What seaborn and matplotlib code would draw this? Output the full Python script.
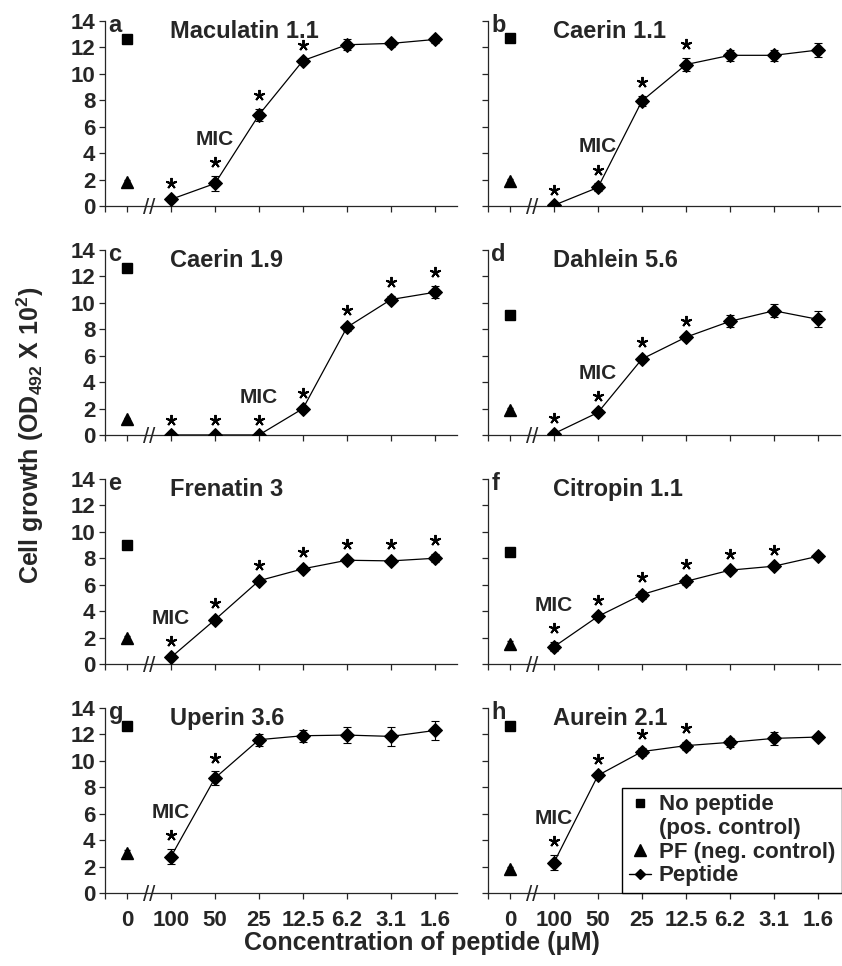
import numpy as np
import pandas as pd
import matplotlib
matplotlib.use("Agg")
import matplotlib.pyplot as plt
from matplotlib.lines import Line2D
import seaborn as sns

# ---- data ----
conc_labels = ["0", "100", "50", "25", "12.5", "6.2", "3.1", "1.6"]
letters = ["a", "b", "c", "d", "e", "f", "g", "h"]
peptides = ["Maculatin 1.1", "Caerin 1.1", "Caerin 1.9", "Dahlein 5.6",
            "Frenatin 3", "Citropin 1.1", "Uperin 3.6", "Aurein 2.1"]

pos_control = [12.6, 12.7, 12.6, 9.1, 9.0, 8.5, 12.6, 12.6]
pos_control_err = [0.2, 0.2, 0.2, 0.15, 0.15, 0.15, 0.25, 0.2]
neg_control = [1.8, 1.9, 1.2, 1.9, 2.0, 1.5, 3.0, 1.8]
neg_control_err = [0.15, 0.15, 0.1, 0.15, 0.1, 0.2, 0.25, 0.15]

growth_a = [0.5, 1.7, 6.9, 11.0, 12.2, 12.3, 12.6]
growth_b = [0.05, 1.4, 7.95, 10.7, 11.4, 11.4, 11.8]
growth_c = [0.0, 0.0, 0.0, 2.0, 8.15, 10.25, 10.8]
growth_d = [0.1, 1.7, 5.75, 7.4, 8.6, 9.4, 8.75]
growth_e = [0.5, 3.35, 6.3, 7.2, 7.85, 7.8, 8.0]
growth_f = [1.3, 3.6, 5.25, 6.25, 7.1, 7.4, 8.15]
growth_g = [2.75, 8.7, 11.6, 11.9, 11.95, 11.85, 12.3]
growth_h = [2.3, 8.9, 10.7, 11.15, 11.4, 11.7, 11.8]

err_a = [0.2, 0.55, 0.45, 0.15, 0.4, 0.25, 0.25]
err_b = [0.1, 0.3, 0.4, 0.5, 0.4, 0.4, 0.5]
err_c = [0.05, 0.05, 0.05, 0.15, 0.25, 0.3, 0.45]
err_d = [0.15, 0.2, 0.25, 0.2, 0.45, 0.5, 0.6]
err_e = [0.15, 0.2, 0.15, 0.2, 0.2, 0.25, 0.3]
err_f = [0.35, 0.2, 0.3, 0.3, 0.15, 0.2, 0.2]
err_g = [0.55, 0.5, 0.45, 0.45, 0.6, 0.7, 0.7]
err_h = [0.55, 0.2, 0.3, 0.3, 0.35, 0.5, 0.25]

# significance stars (1 = starred) and which concentration is the MIC
stars_a = [1, 1, 1, 1, 0, 0, 0]
stars_b = [1, 1, 1, 1, 0, 0, 0]
stars_c = [1, 1, 1, 1, 1, 1, 1]
stars_d = [1, 1, 1, 1, 0, 0, 0]
stars_e = [1, 1, 1, 1, 1, 1, 1]
stars_f = [1, 1, 1, 1, 1, 1, 0]
stars_g = [1, 1, 0, 0, 0, 0, 0]
stars_h = [1, 1, 1, 1, 0, 0, 0]
mic_index = [1, 1, 2, 1, 0, 0, 0, 0]

growth = [growth_a, growth_b, growth_c, growth_d, growth_e, growth_f, growth_g, growth_h]
errors = [err_a, err_b, err_c, err_d, err_e, err_f, err_g, err_h]
stars = [stars_a, stars_b, stars_c, stars_d, stars_e, stars_f, stars_g, stars_h]

sns.set_style("ticks")
plt.rcParams["font.family"] = ["Liberation Sans", "DejaVu Sans"]
plt.rcParams["font.weight"] = "bold"
plt.rcParams["mathtext.fontset"] = "custom"
plt.rcParams["mathtext.bf"] = "Liberation Sans:bold"
plt.rcParams["mathtext.rm"] = "Liberation Sans:bold"
plt.rcParams["axes.linewidth"] = 0.9

fig, axes = plt.subplots(4, 2, figsize=(8.42, 9.66), dpi=100)
fig.subplots_adjust(left=0.1247, right=0.9976, top=0.9783, bottom=0.0756,
                    wspace=0.088, hspace=0.238)

pep_pos = np.arange(1, 8)

for i, ax in enumerate(axes.flat):
    df = pd.DataFrame({"pos": pep_pos, "growth": growth[i], "err": errors[i],
                       "star": stars[i]})

    ax.errorbar(df["pos"], df["growth"], yerr=df["err"], fmt="none",
                ecolor="black", elinewidth=0.8, capsize=3, capthick=0.8, zorder=2)
    sns.lineplot(data=df, x="pos", y="growth", ax=ax, color="black",
                 marker="D", markersize=7.5, markeredgecolor="black",
                 linewidth=0.9, legend=False, zorder=3)

    ax.errorbar([0], [pos_control[i]], yerr=[pos_control_err[i]], fmt="s",
                color="black", ms=7, elinewidth=0.8, capsize=2)
    ax.errorbar([0], [neg_control[i]], yerr=[neg_control_err[i]], fmt="^",
                color="black", ms=8, elinewidth=0.8, capsize=2)

    # significance asterisks above the error bars
    starred = df[df["star"] == 1]
    ax.plot(starred["pos"], starred["growth"] + starred["err"] + 1.05,
            ls="none", marker=(5, 2, 0), ms=8, mew=1.4, color="black",
            clip_on=False)

    # MIC label
    m = mic_index[i]
    ax.text(pep_pos[m], growth[i][m] + errors[i][m] + 2.35, "MIC",
            ha="center", va="baseline", fontsize=15, fontweight="bold")

    ax.text(-0.42, 13.15, letters[i], ha="left", va="baseline",
            fontsize=17, fontweight="bold")
    ax.text(0.98, 12.7, peptides[i], ha="left", va="baseline",
            fontsize=17, fontweight="bold")

    # axis break marks
    ax.text(0.5, -0.2, "//", ha="center", va="center", fontsize=16,
            fontweight="normal", clip_on=False)

    ax.set_xlim(-0.5, 7.5)
    ax.set_ylim(0, 14)
    ax.set_xticks([-0.5] + list(range(8)))
    ax.set_yticks(range(0, 15, 2))
    ax.set_xlabel("")
    ax.set_ylabel("")
    ax.tick_params(length=4, width=0.9, labelsize=16, pad=3)
    ax.tick_params(axis="x", pad=8)
    if i >= 6:
        ax.set_xticklabels([""] + conc_labels, fontweight="bold")
    else:
        ax.set_xticklabels([])
    if i % 2 == 0:
        ax.set_yticklabels([str(v) for v in range(0, 15, 2)], fontweight="bold")
    else:
        ax.set_yticklabels([])
    sns.despine(ax=ax)

# legend in panel h
handles = [
    Line2D([], [], marker="s", ls="none", color="black", ms=6),
    Line2D([], [], ls="none"),
    Line2D([], [], marker="^", ls="none", color="black", ms=9),
    Line2D([], [], marker="D", ls="-", color="black", ms=5, lw=1),
]
labels = ["No peptide", "(pos. control)", "PF (neg. control)", "Peptide"]
leg = axes[3, 1].legend(handles, labels, loc="lower right",
                        bbox_to_anchor=(1.005, 0), borderaxespad=0,
                        fontsize=16, frameon=True, fancybox=False,
                        edgecolor="black", framealpha=1, handlelength=1.0,
                        handletextpad=0.35, borderpad=0.3, labelspacing=0.12)
leg.get_frame().set_linewidth(1.0)
for t in leg.get_texts():
    t.set_fontweight("bold")

fig.text(30 / 842, 1 - 435 / 966,
         r"Cell growth (OD$_{\mathbf{492}}$ X 10$^{\mathbf{2}}$)",
         rotation=90, ha="center", va="center", fontsize=18, fontweight="bold")
fig.text(422 / 842, 1 - 943 / 966, "Concentration of peptide (\u03bcM)",
         ha="center", va="center", fontsize=18, fontweight="bold")

fig.savefig("out.png", dpi=100)
